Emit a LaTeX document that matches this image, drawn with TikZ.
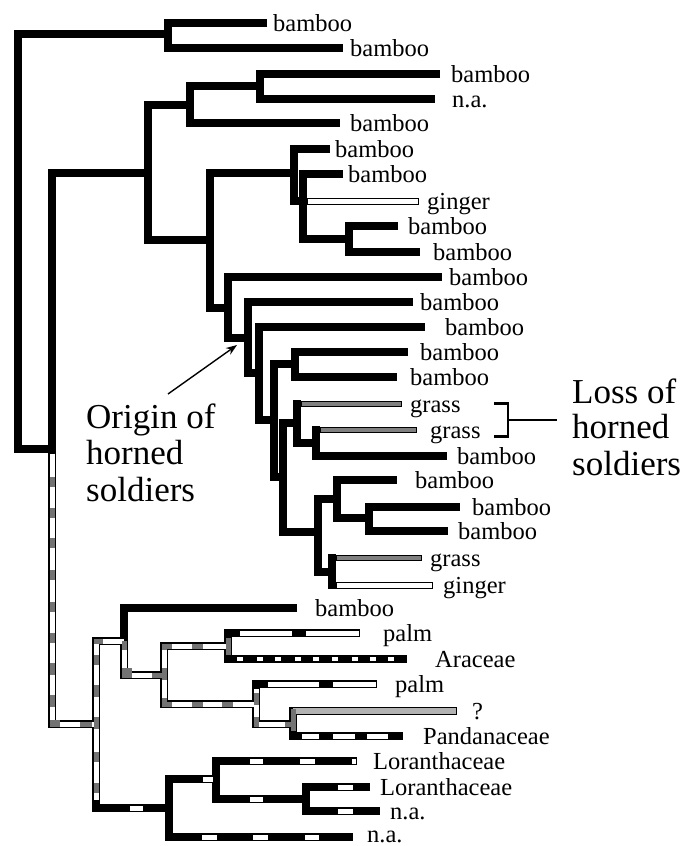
\documentclass[tikz,border=0pt]{standalone}
\usepackage{fontspec}
\setmainfont{Liberation Serif}
\usetikzlibrary{arrows.meta}
\newcommand\vgray[3]{\fill[gfill] ({#1-2.5},#2) rectangle ({#1+2.5},#3);}
\newcommand\hgray[3]{\fill[gfill] (#2,{#1-2.5}) rectangle (#3,{#1+2.5});}
\newcommand\hwhite[3]{\fill[white] (#2,{#1-2.5}) rectangle (#3,{#1+2.5});}
\begin{document}
\begin{tikzpicture}[x=1pt,y=-1pt,
 blk/.style={line width=8.5pt,line join=miter,black},
 pout/.style={line width=7.5pt,line join=miter,black},
 pin/.style={line width=5pt,line join=miter,white},
 gfill/.style={fill=black!55},
 grassout/.style={line width=6.5pt,black},
 grassin/.style={line width=4.5pt,black!50},
 gingout/.style={line width=7pt,black},
 gingin/.style={line width=5pt,white},
 lab/.style={anchor=base west,inner sep=0pt,font=\fontsize{24.5}{26}\selectfont},
 big/.style={anchor=base west,inner sep=0pt,font=\fontsize{35}{37}\selectfont}]
\useasboundingbox (0,0) rectangle (681,846);

% ---------- upper (black) part of the tree ----------
\draw[blk] (168,34) -- (18,34) -- (18,449) -- (56.25,449);
\draw[blk] (267,23) -- (168,23) -- (168,48) -- (343,48);
\draw[blk] (148,173) -- (52,173) -- (52,449);
\draw[blk] (190,105) -- (148,105) -- (148,240) -- (210,240);
\draw[blk] (260,86) -- (190,86) -- (190,123) -- (340,123);
\draw[blk] (440,74) -- (260,74) -- (260,99) -- (435,99);
\draw[blk] (294,173) -- (210,173) -- (210,308) -- (228,308);
\draw[blk] (330,149) -- (294,149) -- (294,201) -- (303,201);
\draw[blk] (343,174) -- (303,174) -- (303,239) -- (349,239);
\draw[blk] (398,226) -- (349,226) -- (349,252) -- (420,252);
\draw[blk] (442,277) -- (228,277) -- (228,338) -- (248,338);
\draw[blk] (413,302) -- (248,302) -- (248,373) -- (259,373);
\draw[blk] (425,327) -- (259,327) -- (259,420) -- (274,420);
\draw[blk] (295,364) -- (274,364) -- (274,477) -- (283,477);
\draw[blk] (408,352) -- (295,352) -- (295,377) -- (397,377);
\draw[blk] (297,423) -- (283,423) -- (283,532) -- (318,532);
\draw[blk] (297,400) -- (297,443) -- (316,443);
\draw[blk] (316,426) -- (316,456) -- (447,456);
\draw[blk] (337,499) -- (318,499) -- (318,572) -- (332,572);
\draw[blk] (397,480) -- (337,480) -- (337,518) -- (369,518);
\draw[blk] (460,507) -- (369,507) -- (369,531) -- (448,531);
\draw[blk] (332,554) -- (332,589);

% grass and ginger tips
\draw[gingout] (303,201) -- (419,201); \draw[gingin] (307.5,201) -- (418,201);
\draw[grassout] (297,404) -- (402,404); \draw[grassin] (301.5,404) -- (401,404);
\draw[grassout] (316,430) -- (417,430); \draw[grassin] (320.5,430) -- (416,430);
\draw[grassout] (332,558) -- (422,558); \draw[grassin] (336.5,558) -- (421,558);
\draw[gingout] (332,585) -- (433,585); \draw[gingin] (336.5,585) -- (432,585);

% ---------- lower part ----------
\draw[blk] (297,608) -- (124,608) -- (124,641);
\draw[blk] (360,633) -- (228,633) -- (228,659) -- (407,659);
\draw[blk] (377,684) -- (256,684) -- (256,690);
\draw[blk] (293,731) -- (293,736) -- (403,736);
\draw[blk] (96,800) -- (96,808) -- (169,808);
\draw[blk] (216,779) -- (169,779) -- (169,837) -- (353,837);
\draw[blk] (357,761) -- (216,761) -- (216,799) -- (306,799);
\draw[blk] (370,787) -- (306,787) -- (306,811) -- (380,811);

\draw[pout] (52,453) -- (52,724) -- (96,724);
\draw[pout] (124,641) -- (96,641) -- (96,800);
\draw[pout] (124,641) -- (124,675) -- (164,675);
\draw[pout] (228,646) -- (164,646) -- (164,704) -- (256,704);
\draw[pout] (256,688) -- (256,724) -- (293,724);
\draw[line width=8pt,line join=miter] (457,711) -- (293,711) -- (293,732);

\draw[pin] (52,453.5) -- (52,724) -- (96,724);
\draw[pin] (124,641) -- (96,641) -- (96,800);
\draw[pin] (124,641) -- (124,675) -- (164,675);
\draw[pin] (228,646) -- (164,646) -- (164,704) -- (256,704);
\draw[pin] (256,689) -- (256,724) -- (293,724);
\draw[line width=5.5pt,black!30] (456,711) -- (293,711);

% grey stripes
\vgray{52}{477}{487} \vgray{52}{508}{518} \vgray{52}{538}{548} \vgray{52}{570}{580}
\vgray{52}{602}{612} \vgray{52}{633}{643} \vgray{52}{663}{675} \vgray{52}{695}{707}
\fill[gfill] (49.5,719.5) rectangle (60,726.5);
\hgray{724}{80}{92}
\vgray{96}{717}{729}
\fill[gfill] (93.5,638.5) rectangle (103,643.5);
\vgray{96}{655}{665} \vgray{96}{685}{697} \vgray{96}{752}{762} \vgray{96}{783}{793}
\vgray{124}{641}{650}
\fill[gfill] (121.5,668) rectangle (132,677.5);
\hgray{675}{152}{164}
\fill[gfill] (161.5,643.5) rectangle (172,648.5); \vgray{164}{643.5}{650}
\vgray{164}{668}{680}
\fill[gfill] (161.5,701.5) rectangle (172,706.5); \vgray{164}{698}{706.5}
\hgray{646}{192}{203}
\hgray{704}{192}{203} \hgray{704}{222}{233}
\vgray{228}{638}{655}
\vgray{256}{693}{705} \vgray{256}{717}{726.5}
\hgray{724}{285}{293}
\vgray{293}{708.5}{731}

% white stripes in black branches
\hwhite{633}{240}{292} \hwhite{633}{306}{358.5}
\foreach \a in {237,257,275,295,313,332,352,370,388} {\fill[white] (\a,656.7) rectangle ({\a+6},661.3);}
\hwhite{684}{268}{319} \hwhite{684}{333}{375.5}
\hwhite{736}{302}{319} \hwhite{736}{333}{355} \hwhite{736}{367}{388}
\hwhite{808}{130}{143}
\hwhite{779}{203}{213}
\hwhite{761}{250}{263} \hwhite{761}{300}{315} \hwhite{761}{352}{355.5}
\hwhite{799}{250}{263}
\hwhite{787}{338}{353}
\hwhite{811}{338}{353}
\hwhite{837}{202}{217} \hwhite{837}{253}{268} \hwhite{837}{305}{319}

% ---------- leaf labels ----------
\node[lab] (l1) at (273,31) {bamboo};
\node[lab] (l2) at (350,56) {bamboo};
\node[lab] (l3) at (451,82) {bamboo};
\node[lab] (l4) at (452,107) {n.a.};
\node[lab] (l5) at (350,131) {bamboo};
\node[lab] (l6) at (335,157) {bamboo};
\node[lab] (l7) at (348,182) {bamboo};
\node[lab] (l8) at (427,209) {ginger};
\node[lab] (l9) at (408,234) {bamboo};
\node[lab] (l10) at (433,260) {bamboo};
\node[lab] (l11) at (449,285) {bamboo};
\node[lab] (l12) at (420,310) {bamboo};
\node[lab] (l13) at (445,335) {bamboo};
\node[lab] (l14) at (420,360) {bamboo};
\node[lab] (l15) at (410,385) {bamboo};
\node[lab] (l16) at (410,412) {grass};
\node[lab] (l17) at (430,438) {grass};
\node[lab] (l18) at (457,464) {bamboo};
\node[lab] (l19) at (415,488) {bamboo};
\node[lab] (l20) at (472,515) {bamboo};
\node[lab] (l21) at (458,539) {bamboo};
\node[lab] (l22) at (430,566) {grass};
\node[lab] (l23) at (443,593) {ginger};
\node[lab] (l24) at (315,616) {bamboo};
\node[lab] (l25) at (383,641) {palm};
\node[lab] (l26) at (435,667) {Araceae};
\node[lab] (l27) at (395,692) {palm};
\node[lab] (l28) at (472,719) {?};
\node[lab] (l29) at (423,744) {Pandanaceae};
\node[lab] (l30) at (373,769) {Loranthaceae};
\node[lab] (l31) at (380,795) {Loranthaceae};
\node[lab] (l32) at (390,819) {n.a.};
\node[lab] (l33) at (367,842) {n.a.};

% ---------- annotations ----------
\node[big] (o1) at (86,428) {Origin of};
\node[big] (o2) at (86,464) {horned};
\node[big] (o3) at (86,501) {soldiers};
\coordinate (arrS) at (168,394);
\coordinate (arrE) at (237,345);
\draw[line width=1.4pt,-{Stealth[length=11pt,width=8pt]}] (arrS) -- (arrE);

\coordinate (brT) at (494,403.5);
\coordinate (brB) at (494,436.5);
\coordinate (brM) at (508,420);
\coordinate (brE) at (557,420);
\draw[line width=2.6pt,line join=miter] (brT) -- (508,403.5) -- (508,436.5) -- (brB);
\draw[line width=2.3pt] (brM) -- (brE);
\node[big] (s1) at (572,403) {Loss of};
\node[big] (s2) at (572,438) {horned};
\node[big] (s3) at (572,475) {soldiers};
\end{tikzpicture}
\end{document}
